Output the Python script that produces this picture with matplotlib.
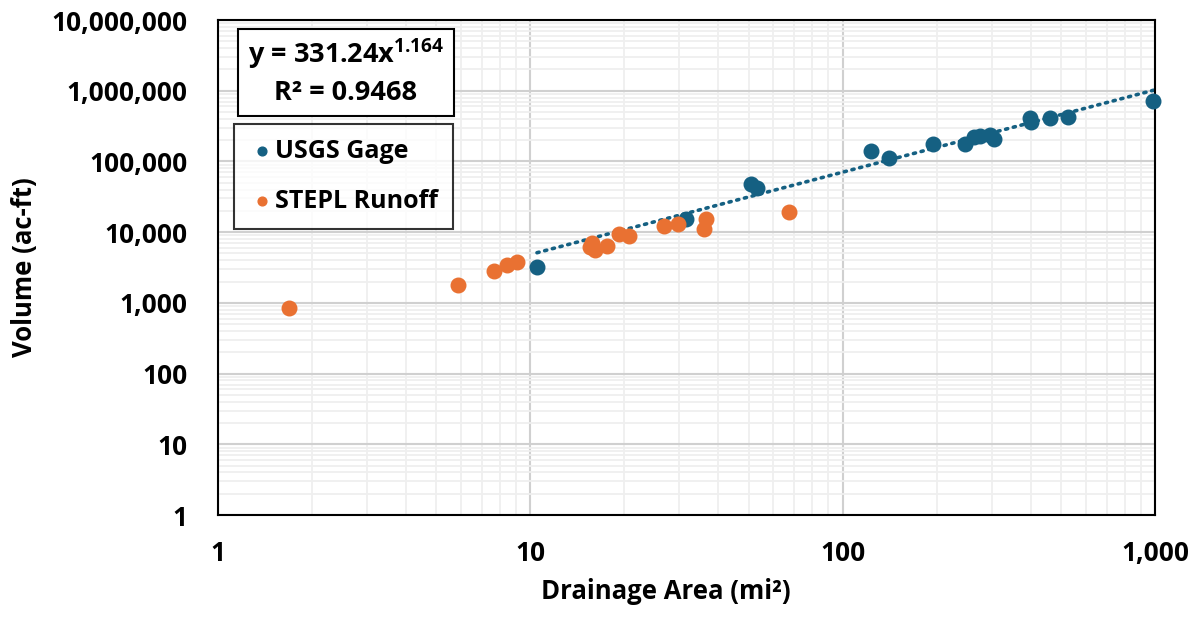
import numpy as np
import matplotlib
matplotlib.use("Agg")
import matplotlib.pyplot as plt
from matplotlib.ticker import FuncFormatter, LogLocator
from matplotlib.patches import Rectangle

plt.rcParams["font.family"] = ["Open Sans", "DejaVu Sans"]
plt.rcParams["font.weight"] = "bold"
plt.rcParams["mathtext.fontset"] = "custom"
plt.rcParams["mathtext.rm"] = "Open Sans:bold"
plt.rcParams["mathtext.it"] = "Open Sans:bold"
plt.rcParams["mathtext.bf"] = "Open Sans:bold"

# USGS gage data (drainage area mi2, volume ac-ft)
usgs_area = [10.5, 31.5, 50.9, 53.1, 123, 141, 195, 247, 264, 275, 297, 306,
             398, 400, 461, 528, 988]
usgs_vol = [3250, 15400, 47600, 41800, 141000, 113000, 177000, 177000, 224000,
            229000, 237000, 206000, 408000, 366000, 417000, 431000, 724000]

# STEPL runoff data
stepl_area = [1.69, 5.88, 7.65, 8.44, 9.04, 15.5, 16.1, 15.7, 17.6, 19.2, 20.7,
              26.7, 29.6, 36.5, 36.1, 67.3]
stepl_vol = [840, 1790, 2830, 3440, 3830, 6110, 5600, 6960, 6380, 9440, 8840,
             12200, 13100, 15300, 11000, 19500]

# power trendline on USGS gage
coef_a = 331.24
coef_b = 1.164

blue = "#156082"
orange = "#E97132"

fig = plt.figure(figsize=(12.02, 6.25), dpi=100)
ax = fig.add_axes([0.1814, 0.176, 0.9609 - 0.1814, 0.968 - 0.176])

ax.set_xscale("log")
ax.set_yscale("log")
ax.set_xlim(1, 1000)
ax.set_ylim(1, 1e7)

ax.xaxis.set_minor_locator(LogLocator(base=10, subs=np.arange(2, 10)))
ax.yaxis.set_minor_locator(LogLocator(base=10, subs=np.arange(2, 10), numticks=20))
ax.yaxis.set_major_locator(LogLocator(base=10, numticks=20))
ax.grid(which="minor", color="#efefef", lw=1.3)
ax.grid(which="major", color="#d0d0d0", lw=1.5)
ax.set_axisbelow(True)

fmt = FuncFormatter(lambda v, p: f"{int(round(v)):,}")
ax.xaxis.set_major_formatter(fmt)
ax.yaxis.set_major_formatter(fmt)
ax.tick_params(which="both", length=0, labelsize=19)
ax.tick_params(axis="x", pad=18)
ax.tick_params(axis="y", pad=22)

for s in ax.spines.values():
    s.set_color("black")
    s.set_linewidth(1.5)

xt = np.logspace(np.log10(min(usgs_area)), np.log10(1000), 200)
ax.plot(xt, coef_a * xt ** coef_b, color=blue, lw=2.6,
        linestyle=(0, (0.6, 1.6)), dash_capstyle="round", zorder=2)

ax.scatter(usgs_area, usgs_vol, s=110, color=blue, zorder=3, label="USGS Gage",
           clip_on=False)
ax.scatter(stepl_area, stepl_vol, s=110, color=orange, zorder=3,
           label="STEPL Runoff", clip_on=False)

ax.set_xlabel("Drainage Area (mi²)", fontsize=18.5, fontweight="bold")
ax.set_ylabel("Volume (ac-ft)", fontsize=18.5, fontweight="bold")
ax.xaxis.set_label_coords(0.478, -0.128)
ax.yaxis.set_label_coords(-0.192, 0.5)

# equation box
fig.patches.append(Rectangle((238 / 1202, 1 - 116 / 625), 216 / 1202, 87 / 625,
                             transform=fig.transFigure, fill=True, fc="white",
                             ec="black", lw=1.5, zorder=5))
fig.text(346 / 1202, 1 - 54 / 625, r"y = 331.24x$^{1.164}$", ha="center",
         va="center", fontsize=19.5, fontweight="bold", zorder=6)
fig.text(346 / 1202, 1 - 93 / 625, "R² = 0.9468", ha="center", va="center",
         fontsize=19.5, fontweight="bold", zorder=6)

leg = ax.legend(loc="upper left", bbox_to_anchor=(234 / 1202, 1 - 124 / 625),
                bbox_transform=fig.transFigure, fontsize=18, markerscale=0.6,
                frameon=True, fancybox=False, handletextpad=0.05,
                borderpad=0.6, labelspacing=1.0, handlelength=1.0,
                borderaxespad=0)
leg.get_frame().set_edgecolor("black")
leg.get_frame().set_linewidth(1.5)
for t in leg.get_texts():
    t.set_fontweight("bold")

fig.savefig("out.png", dpi=100)
